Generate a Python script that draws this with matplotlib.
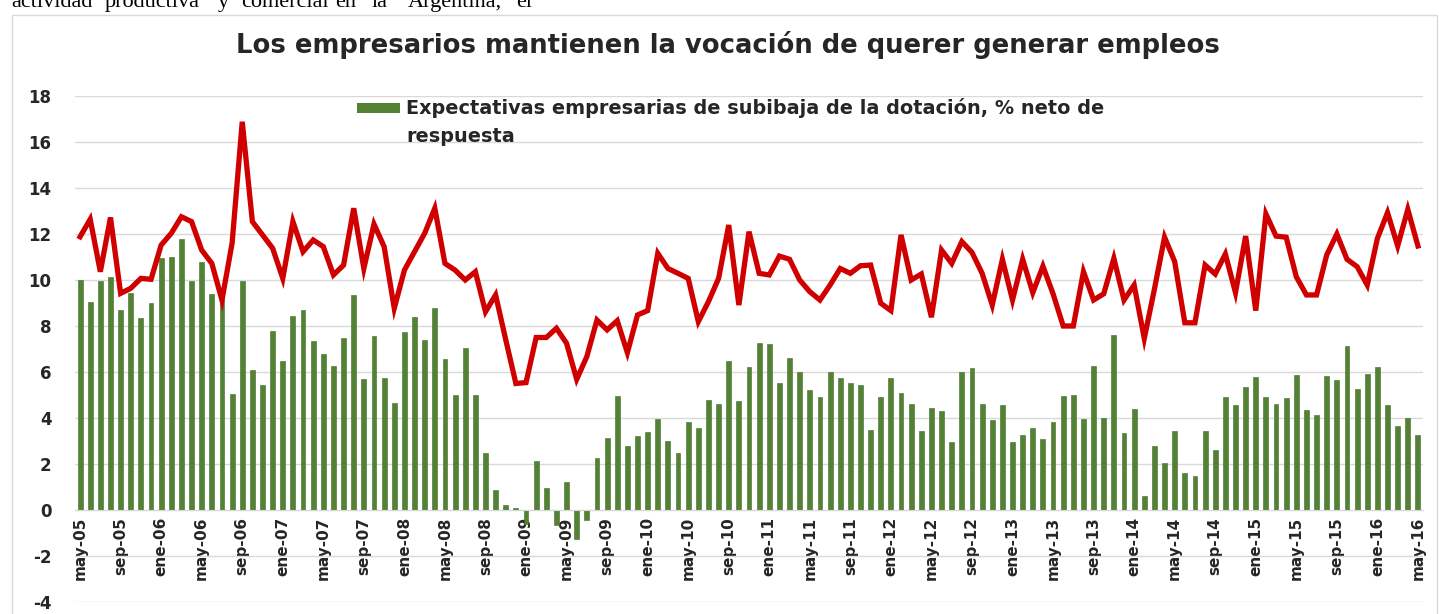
import matplotlib.pyplot as plt
from matplotlib.patches import Rectangle

plt.rcParams['axes.unicode_minus'] = False

# monthly series, may-05 .. may-16
bar_values = [
    10.0, 9.05, 9.95, 10.15, 8.7, 9.45, 8.35, 9.0, 10.95, 11.0, 11.8, 9.95,
    10.8, 9.4, 9.2, 5.05, 9.95, 6.1, 5.45, 7.8, 6.5, 8.45, 8.7, 7.35,
    6.8, 6.25, 7.5, 9.35, 5.7, 7.55, 5.72, 4.65, 7.73, 8.4, 7.4, 8.8,
    6.58, 5.0, 7.04, 5.0, 2.5, 0.86, 0.2, 0.1, -0.6, 2.15, 0.95, -0.65,
    1.2, -1.25, -0.45, 2.25, 3.15, 4.97, 2.8, 3.2, 3.4, 3.94, 3.02, 2.46,
    3.82, 3.55, 4.79, 4.63, 6.5, 4.72, 6.23, 7.25, 7.2, 5.52, 6.62, 5.98,
    5.21, 4.92, 5.99, 5.72, 5.52, 5.43, 3.48, 4.92, 5.72, 5.09, 4.63, 3.45,
    4.45, 4.3, 2.94, 6.0, 6.17, 4.63, 3.9, 4.57, 2.97, 3.28, 3.57, 3.1,
    3.82, 4.97, 5.0, 3.96, 6.28, 4.02, 7.59, 3.35, 4.38, 0.6, 2.8, 2.04,
    3.43, 1.61, 1.48, 3.43, 2.6, 4.92, 4.55, 5.35, 5.8, 4.92, 4.63, 4.87,
    5.89, 4.33, 4.13, 5.82, 5.65, 7.13, 5.26, 5.91, 6.23, 4.57, 3.65, 4.02,
    3.26,
]

line_values = [
    11.88, 12.64, 10.36, 12.72, 9.42, 9.64, 10.07, 10.03, 11.52, 12.03, 12.75, 12.54,
    11.3, 10.72, 9.13, 11.6, 16.88, 12.54, 11.96, 11.38, 10.07, 12.54, 11.23, 11.74,
    11.45, 10.22, 10.65, 13.12, 10.5, 12.43, 11.45, 8.77, 10.43, 11.23, 12.03, 13.12,
    10.72, 10.43, 10.0, 10.36, 8.62, 9.35, 7.4, 5.5, 5.54, 7.5, 7.5, 7.9,
    7.25, 5.68, 6.67, 8.26, 7.83, 8.23, 6.84, 8.48, 8.67, 11.16, 10.5, 10.29,
    10.07, 8.19, 9.06, 10.07, 12.39, 8.91, 12.1, 10.29, 10.22, 11.04, 10.9, 10.0,
    9.49, 9.13, 9.78, 10.5, 10.29, 10.62, 10.65, 8.99, 8.67, 11.96, 10.0, 10.26,
    8.38, 11.3, 10.72, 11.67, 11.2, 10.29, 8.91, 10.9, 9.13, 10.9, 9.45, 10.6,
    9.4, 8.0, 8.0, 10.36, 9.13, 9.4, 10.94, 9.13, 9.78, 7.46, 9.6, 11.86,
    10.8, 8.14, 8.14, 10.65, 10.26, 11.13, 9.45, 11.91, 8.67, 12.87, 11.91, 11.86,
    10.14, 9.35, 9.35, 11.09, 12.0, 10.9, 10.58, 9.78, 11.81, 12.93, 11.48, 13.07,
    11.48,
]

month_names = ['ene', 'feb', 'mar', 'abr', 'may', 'jun', 'jul', 'ago', 'sep', 'oct', 'nov', 'dic']
months = [f"{month_names[(4 + i) % 12]}-{(5 + (4 + i) // 12):02d}" for i in range(len(bar_values))]
tick_step = 4

legend_label = "Expectativas empresarias de subibaja de la dotación, % neto de"
legend_label_2 = "respuesta"
title = "Los empresarios mantienen la vocación de querer generar empleos"
page_words = ["actividad", "productiva", "y", "comercial", "en", "la", "Argentina,", "el"]
page_word_x = [11, 105, 218, 241, 335, 372, 408, 516]

W, H = 1439, 614
fig = plt.figure(figsize=(W / 100, H / 100), dpi=100)

# cut-off line of body text above the chart
for w, px in zip(page_words, page_word_x):
    fig.text(px / W, 1 - 7 / H, w, family='Liberation Serif', fontsize=16,
             va='baseline', ha='left', color='black')

# chart frame
fig.patches.append(Rectangle((12 / W, -0.05), (1437 - 12) / W, 1.05 - 15 / H,
                             transform=fig.transFigure, fill=False,
                             edgecolor='#D9D9D9', linewidth=1))

fig.text(728 / W, 1 - 45 / H, title, ha='center', va='center',
         fontsize=18.6, fontweight='bold', color='#262626')

ax = fig.add_axes([75 / W, 12 / H, (1423 - 75) / W, (602 - 96) / H])
x = list(range(len(bar_values)))
ax.bar(x, bar_values, width=0.48, color='#548235', edgecolor='#3f6a26', linewidth=0.4, zorder=2)
ax.plot(x, line_values, color='#D00000', linewidth=3.8, solid_joinstyle='miter', zorder=3)

ax.set_xlim(-0.5, len(bar_values) - 0.5)
ax.set_ylim(-4, 18)
ax.set_yticks(range(-4, 19, 2))
ax.yaxis.grid(True, color='#D9D9D9', linewidth=1)
ax.set_axisbelow(True)

# category labels sit under the zero line
ax.spines['bottom'].set_position(('data', 0))
ax.spines['bottom'].set_color('#D9D9D9')
for s in ['top', 'right', 'left']:
    ax.spines[s].set_visible(False)
ax.set_xticks(x[::tick_step])
ax.set_xticklabels(months[::tick_step], rotation=90, fontsize=11, fontweight='bold', color='#262626')
ax.tick_params(axis='x', length=0, pad=5)
ax.tick_params(axis='y', length=0, pad=17, labelsize=12, labelcolor='#262626')
for lab in ax.get_yticklabels():
    lab.set_fontweight('bold')

# legend (bars only)
fig.patches.append(Rectangle((357 / W, 1 - 113 / H), 43 / W, 10 / H,
                             transform=fig.transFigure, facecolor='#548235', edgecolor='none'))
fig.text(406 / W, 1 - 108 / H, legend_label, ha='left', va='center',
         fontsize=13.9, fontweight='bold', color='#262626')
fig.text(406 / W, 1 - 136 / H, legend_label_2, ha='left', va='center',
         fontsize=13.9, fontweight='bold', color='#262626')

fig.savefig('out.png', dpi=100)
